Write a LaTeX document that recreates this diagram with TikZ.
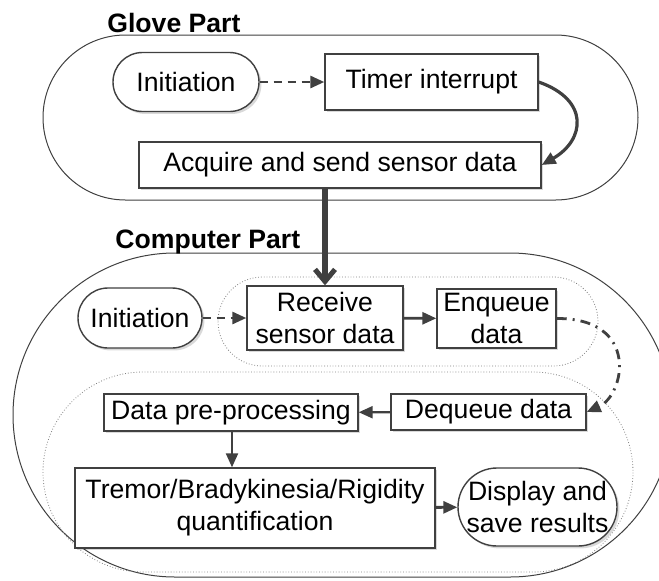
\documentclass[tikz,border=0pt]{standalone}
\usepackage{fontspec}
\setmainfont{Liberation Sans}
\usetikzlibrary{arrows.meta,shadows}

\tikzset{
	txt/.style={font=\fontsize{13.3}{16}\selectfont},
	stepbox/.style={txt, draw=black!75, line width=0.7pt, fill=white, inner sep=0pt, align=center,
		drop shadow={shadow xshift=1.2pt, shadow yshift=-1.2pt, fill=black, opacity=0.15}},
	term/.style={stepbox, rounded corners=#1},
	region/.style={draw=black!75, line width=0.5pt},
	subregion/.style={draw=black!50, line width=0.4pt, densely dotted},
	flow/.style={draw=black!75, line width=1.4pt, -{Triangle[length=7pt, width=6pt]}},
}

\begin{document}
\begin{tikzpicture}[x=0.5pt, y=-0.5pt]
	\clip (0, 0) rectangle (659, 580);

	\draw[region, rounded corners=41.25pt, fill=white] (43, 35) rectangle (638, 200);
	\node[txt, font=\fontsize{13.3}{16}\selectfont\bfseries, anchor=base west, inner sep=0pt] at (107, 32) (glove) {Glove Part};

	\node[term=14.75pt, minimum width=73pt, minimum height=29.5pt] at (186, 82) (ginit) {Initiation};
	\node[stepbox, minimum width=106.5pt, minimum height=28pt] at (431.5, 82) (timer) {Timer interrupt};
	\node[stepbox, minimum width=201pt, minimum height=23pt] at (340, 165) (acquire) {Acquire and send sensor data};

	\draw[flow, dashed, dash pattern=on 4pt off 3pt] (ginit) -- (timer);
	\draw[flow, line width=1.6pt] (timer.east) .. controls (590, 100) and (585, 140) .. (acquire.east);

	\draw[region, rounded corners=81pt, fill=white] (13, 253) rectangle (672, 577);
	\node[txt, font=\fontsize{13.3}{16}\selectfont\bfseries, anchor=base west, inner sep=0pt] at (115, 248) (computer) {Computer Part};

	\draw[subregion, rounded corners=22.25pt] (218, 277) rectangle (598, 366);
	\draw[subregion, rounded corners=50pt] (43, 372) rectangle (633, 572);

	\node[term=15pt, minimum width=62pt, minimum height=30pt] at (140, 318) (cinit) {Initiation};
	\node[stepbox, minimum width=78pt, minimum height=32pt] at (325, 318) (receive) {Receive\\sensor data};
	\node[stepbox, minimum width=59.5pt, minimum height=29.5pt] at (496.5, 318.5) (enqueue) {Enqueue\\data};
	\node[stepbox, minimum width=97.5pt, minimum height=18pt] at (488.5, 412) (dequeue) {Dequeue data};
	\node[stepbox, minimum width=127pt, minimum height=18.5pt] at (231, 412.5) (preproc) {Data pre-processing};
	\node[stepbox, minimum width=180pt, minimum height=40pt] at (255, 508) (quantify) {Tremor/Bradykinesia/Rigidity\\quantification};
	\node[term=19.5pt, minimum width=79.5pt, minimum height=39pt] at (537.5, 507) (display) {Display and\\save results};

	\draw[draw=black!75, line width=3pt, -{Straight Barb[length=6pt, width=10pt, line width=2.5pt]}] (acquire.south -| receive.north) -- (receive.north);
	\draw[flow, dashed, dash pattern=on 4pt off 3pt] (cinit) -- (receive);
	\draw[flow] (receive) -- (enqueue);
	\draw[flow, dash pattern=on 5pt off 3pt on 1pt off 3pt] (enqueue.east) .. controls (640, 318) and (625, 395) .. (dequeue.east);
	\draw[flow, line width=1.1pt] (dequeue) -- (preproc);
	\draw[flow, line width=1.1pt] (preproc.south -| 232, 0) -- (quantify.north -| 232, 0);
	\draw[flow] (quantify) -- (display);
\end{tikzpicture}
\end{document}
